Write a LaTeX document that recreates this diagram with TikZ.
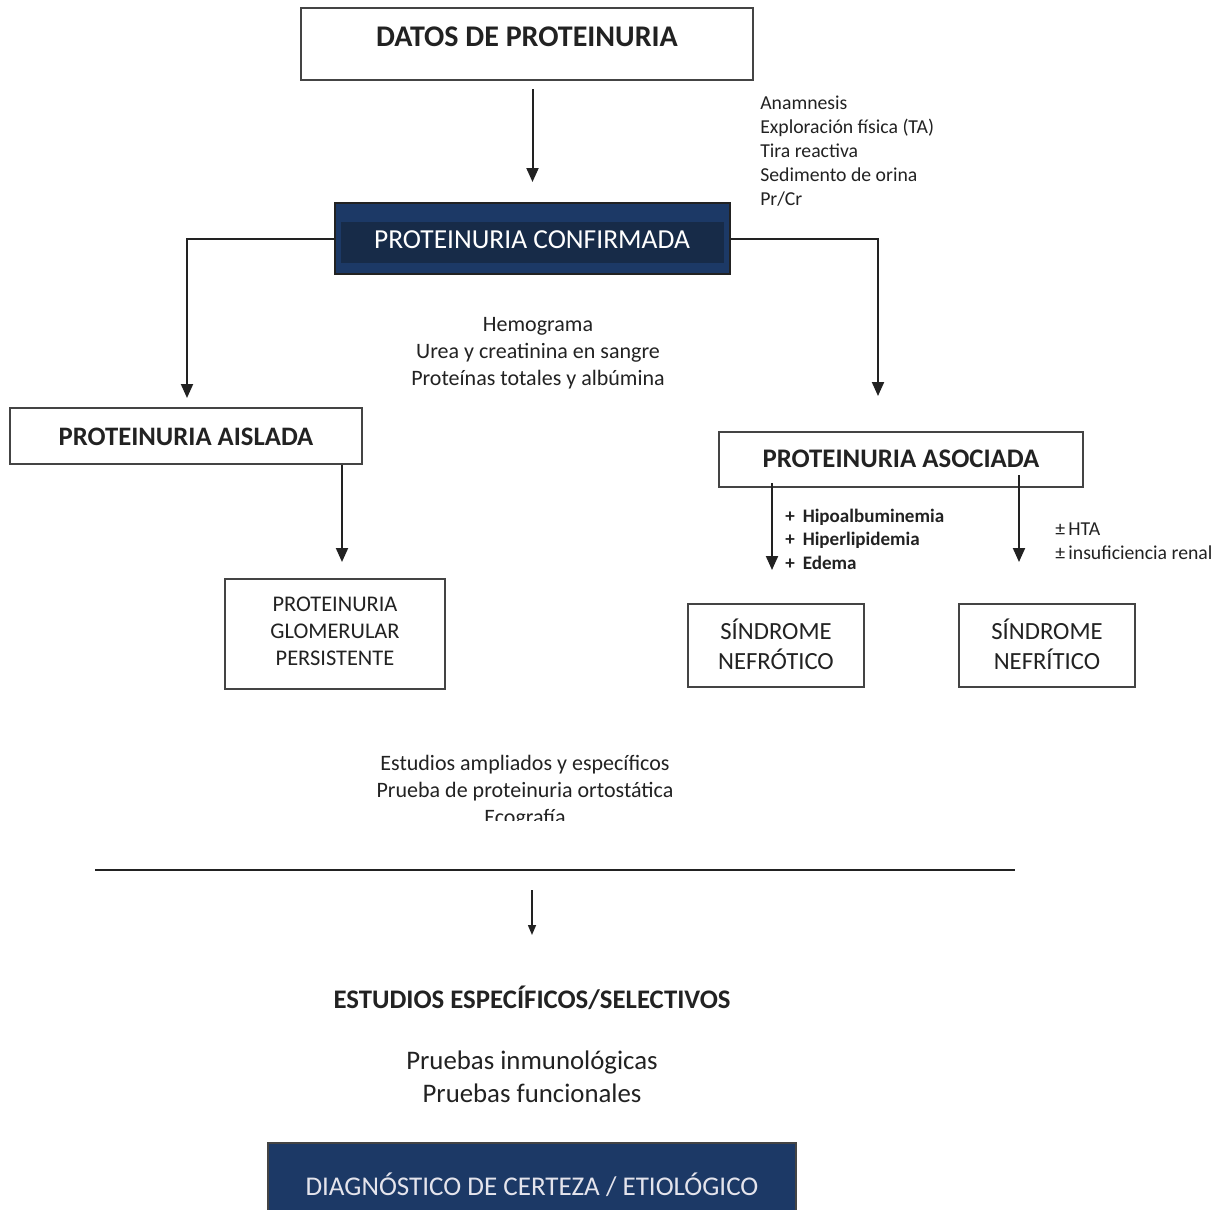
\documentclass[tikz,border=0pt]{standalone}
\usepackage{fontspec}
\setmainfont{Carlito}
\usetikzlibrary{arrows.meta,fit}
\definecolor{navy}{HTML}{1C3966}
\definecolor{navyin}{HTML}{172B48}
\definecolor{ink}{HTML}{222222}
\definecolor{boxline}{HTML}{444444}
\definecolor{paletxt}{HTML}{E4E4EC}
\begin{document}
\begin{tikzpicture}[x=0.75pt,y=-0.75pt,
  box/.style={draw=boxline, line width=1.5pt, inner sep=0pt},
  lbl/.style={inner sep=0pt, text=ink, align=center},
  arr/.style={draw=ink, line width=1.5pt, -{Triangle[length=10.5pt,width=9pt]}},
  smallarr/.style={draw=ink, line width=1.1pt, -{Triangle[length=7.5pt,width=6pt]}},
  bigbold/.style={font=\fontsize{22.5}{26}\selectfont\bfseries},
  midbold/.style={font=\fontsize{20}{24}\selectfont\bfseries},
  sidetxt/.style={font=\fontsize{14.8}{18}\selectfont},
  midtxt/.style={font=\fontsize{16.5}{20.25}\selectfont},
  boxtxt/.style={font=\fontsize{16.8}{20.25}\selectfont},
  syntxt/.style={font=\fontsize{18.5}{22.5}\selectfont}]
\useasboundingbox[fill=white] (0,0) rectangle (1225,1210);

% top box
\node[box, fit={(301,8) (753,80)}] (datos) {};
\node[lbl, bigbold] (datosT) at (527,37) {DATOS DE PROTEINURIA};

% side text
\node[lbl, sidetxt, align=left, anchor=west] (sideT) at (760,151.5)
  {Anamnesis\\Exploración física (TA)\\Tira reactiva\\Sedimento de orina\\Pr/Cr};

% confirmada
\node[box, draw=ink, fill=navy, fit={(335,203) (730,274)}] (conf) {};
\fill[navyin] (341,222) rectangle (724,263);
\node[lbl, text=white, font=\fontsize{20.6}{24}\selectfont] (confT) at (532,240) {PROTEINURIA CONFIRMADA};

\draw[arr, shorten <=6pt, shorten >=15pt] (datos.south -| conf.north) -- (conf.north);

% middle text
\node[lbl, midtxt] (hemoT) at (538,353.5)
  {Hemograma\\Urea y creatinina en sangre\\Proteínas totales y albúmina};

% aislada
\node[box, fit={(10,408) (362,464)}] (aisl) {};
\node[lbl, midbold] (aislT) at (186,437) {PROTEINURIA AISLADA};
\coordinate (ltip) at (187,398);
\draw[arr] (conf.west) -| (ltip);

% asociada
\node[box, fit={(719,432) (1083,487)}] (asoc) {};
\node[lbl, font=\fontsize{20.1}{24}\selectfont\bfseries] (asocT) at (901,459) {PROTEINURIA ASOCIADA};
\coordinate (rtip) at (878,396);
\draw[arr] (conf.east) -| (rtip);

% pgp
\coordinate (ptip) at (342,562);
\draw[arr] (aisl.south -| ptip) -- (ptip);
\node[box, fit={(225,579) (445,689)}] (pgp) {};
\node[lbl, boxtxt] (pgpT) at (335,631) {PROTEINURIA\\GLOMERULAR\\PERSISTENTE};

% asociada arrows
\coordinate (ntip) at (772,570);
\coordinate (ftip) at (1019,562);
\draw[arr] ([yshift=3.75pt]asoc.south -| ntip) -- (ntip);
\draw[arr] ([yshift=9.75pt]asoc.south -| ftip) -- (ftip);
\node[lbl, align=left, anchor=west, font=\fontsize{14.3}{17.6}\selectfont\bfseries] (hipoT) at (785,539)
  {+\hspace{6pt}Hipoalbuminemia\\+\hspace{6pt}Hiperlipidemia\\+\hspace{6pt}Edema};
\node[lbl, align=left, anchor=west, font=\fontsize{14.8}{18}\selectfont] (htaT) at (1055,541.5)
  {±\,HTA\\±\,insuficiencia renal};

% sindromes
\node[box, fit={(688,604) (864,687)}] (nefro) {};
\node[lbl, syntxt] (nefroT) at (776,644) {SÍNDROME\\NEFRÓTICO};
\node[box, fit={(959,604) (1135,687)}] (nefri) {};
\node[lbl, syntxt] (nefriT) at (1047,644) {SÍNDROME\\NEFRÍTICO};

% estudios ampliados (clipped last line)
\begin{scope}
\clip (0,700) rectangle (1225,820);
\node[lbl, midtxt] (estT) at (525,791.5)
  {Estudios ampliados y específicos\\Prueba de proteinuria ortostática\\Ecografía};
\end{scope}

% rule and arrow
\draw[draw=ink, line width=1.3pt] (95,870) -- (1015,870);
\coordinate (b1) at (532,890);
\coordinate (b2) at (532,935);
\draw[smallarr] (b1) -- (b2);

\node[lbl, font=\fontsize{20.1}{24}\selectfont\bfseries] (espT) at (532,998) {ESTUDIOS ESPECÍFICOS/SELECTIVOS};
\node[lbl, font=\fontsize{20.1}{24.75}\selectfont] (prT) at (532,1076.5) {Pruebas inmunológicas\\Pruebas funcionales};

% diagnostico
\node[box, draw=boxline, fill=navy, fit={(268,1143) (796,1222)}] (diag) {};
\node[lbl, text=paletxt, font=\fontsize{20.3}{24}\selectfont] (diagT) at (532,1185) {DIAGNÓSTICO DE CERTEZA / ETIOLÓGICO};
\end{tikzpicture}
\end{document}
